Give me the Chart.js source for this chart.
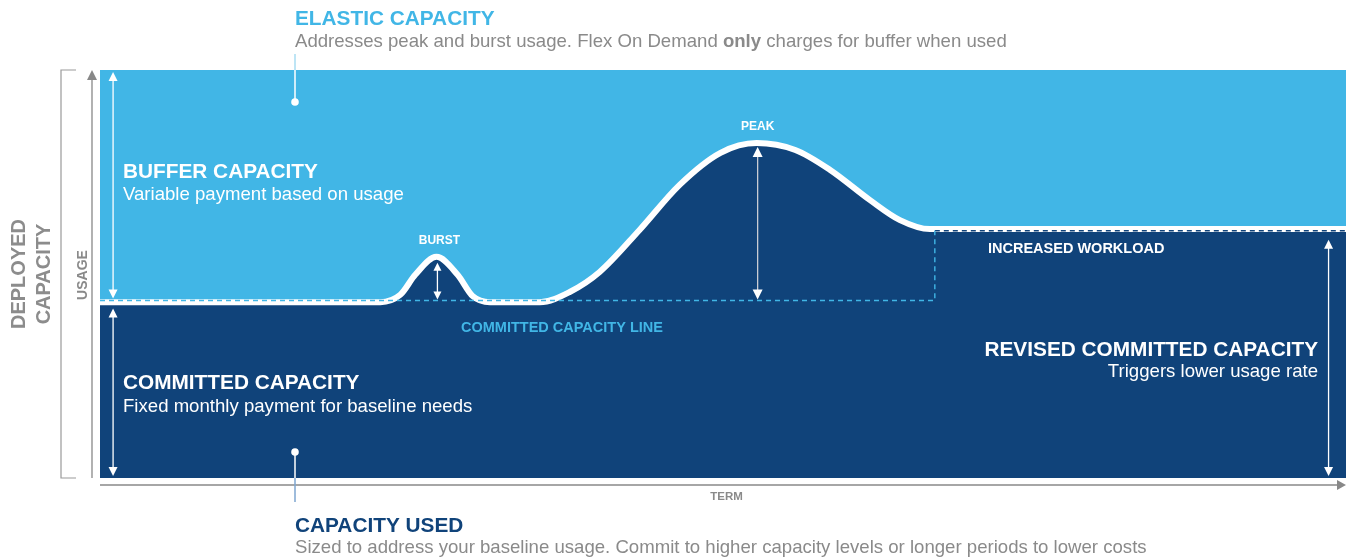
<!DOCTYPE html>
<html><head><meta charset="utf-8">
<script src="https://cdn.jsdelivr.net/npm/chart.js@4/dist/chart.umd.min.js"></script>
<style>html,body{margin:0;padding:0;background:#fff;overflow:hidden}</style>
</head><body>
<canvas id="c" width="1346" height="559"></canvas>
<script>
// ---- data (term on x, usage on y, both 0-100) ----
const termPoints   = [0, 22.5, 24.1, 25.3, 27.0, 28.7, 29.9, 31.3, 35.3, 37.7, 40.1, 43.3, 46.5, 49.8, 52.7, 55.8, 58.6, 61.8, 64.2, 66.6, 100];
const usageValues  = [43.1, 43.1, 44.9, 49.8, 54.2, 49.8, 44.6, 43.1, 43.1, 45.6, 50.5, 60.8, 71.8, 79.7, 82.1, 80.4, 75.5, 68.1, 63.2, 61.0, 61.0];
const committedTerm  = [0, 67.0, 67.0];
const committedLevel = [43.5, 43.5, 60.6];
const revisedTerm    = [67.0, 100];
const revisedLevel   = [60.6, 60.6];

const LIGHT = '#41b6e6', NAVY = '#10437a', GRAY = '#8a8a8a';
const FONT = '"Liberation Sans", Arial, Helvetica, sans-serif';

const pts = (xs, ys) => xs.map((x, i) => ({x, y: ys[i]}));
// local maxima from data
const peakIdx = usageValues.indexOf(Math.max(...usageValues));
let burstIdx = 0;
usageValues.forEach((v, i) => { if (termPoints[i] < 32 && v > usageValues[burstIdx]) burstIdx = i; });

function arrowHead(ctx, x, y, dir, w, h, color) {
  ctx.fillStyle = color;
  ctx.beginPath();
  if (dir === 'up') { ctx.moveTo(x, y); ctx.lineTo(x - w/2, y + h); ctx.lineTo(x + w/2, y + h); }
  else if (dir === 'down') { ctx.moveTo(x, y); ctx.lineTo(x - w/2, y - h); ctx.lineTo(x + w/2, y - h); }
  else if (dir === 'right') { ctx.moveTo(x, y); ctx.lineTo(x - h, y - w/2); ctx.lineTo(x - h, y + w/2); }
  ctx.closePath(); ctx.fill();
}
function dblArrow(ctx, x, y1, y2, lineColor, headColor, w, h) {
  ctx.strokeStyle = lineColor; ctx.lineWidth = 1.3;
  ctx.beginPath(); ctx.moveTo(x, y1 + h - 1); ctx.lineTo(x, y2 - h + 1); ctx.stroke();
  arrowHead(ctx, x, y1, 'up', w, h, headColor);
  arrowHead(ctx, x, y2, 'down', w, h, headColor);
}
function text(ctx, s, x, y, font, color, align) {
  ctx.font = font; ctx.fillStyle = color; ctx.textAlign = align || 'left'; ctx.textBaseline = 'alphabetic';
  ctx.fillText(s, x, y);
}

const bgPlugin = {
  id: 'bg',
  beforeDraw(chart) {
    const {ctx, chartArea: a} = chart;
    ctx.save();
    ctx.fillStyle = '#fff'; ctx.fillRect(0, 0, chart.width, chart.height);
    ctx.fillStyle = LIGHT; ctx.fillRect(a.left, a.top, a.right - a.left, a.bottom - a.top);
    ctx.restore();
  }
};

const decoPlugin = {
  id: 'deco',
  afterDraw(chart) {
    const {ctx, chartArea: a, scales: {x, y}} = chart;
    ctx.save();
    const cY = y.getPixelForValue(committedLevel[0]);
    const rY = y.getPixelForValue(revisedLevel[0]);
    // left bracket
    ctx.strokeStyle = '#9a9a9a'; ctx.lineWidth = 1.2;
    ctx.beginPath(); ctx.moveTo(a.left - 24, a.top); ctx.lineTo(a.left - 39, a.top); ctx.lineTo(a.left - 39, a.bottom); ctx.lineTo(a.left - 24, a.bottom); ctx.stroke();
    // usage axis arrow
    ctx.strokeStyle = '#888'; ctx.lineWidth = 1.3;
    ctx.beginPath(); ctx.moveTo(a.left - 8, a.bottom); ctx.lineTo(a.left - 8, a.top + 8); ctx.stroke();
    arrowHead(ctx, a.left - 8, a.top, 'up', 10, 10, '#888');
    // term axis arrow
    ctx.strokeStyle = '#888';
    ctx.beginPath(); ctx.moveTo(a.left, a.bottom + 7); ctx.lineTo(a.right - 8, a.bottom + 7); ctx.stroke();
    arrowHead(ctx, a.right, a.bottom + 7, 'right', 10, 9, '#888');

    // white double arrows
    const ax = x.getPixelForValue(1.05);
    dblArrow(ctx, ax, y.getPixelForValue(100) + 2, cY - 2, '#fff', '#fff', 9, 9);
    dblArrow(ctx, ax, cY + 8, y.getPixelForValue(0) - 2, '#fff', '#fff', 9, 9);
    const rx = x.getPixelForValue(98.6);
    dblArrow(ctx, rx, rY + 9, y.getPixelForValue(0) - 2, '#fff', '#fff', 9, 9);
    const bx = x.getPixelForValue(termPoints[burstIdx]) + 1;
    dblArrow(ctx, bx, y.getPixelForValue(usageValues[burstIdx]) + 6, cY - 1, '#fff', '#fff', 8, 8);
    const px = x.getPixelForValue(termPoints[peakIdx]) + 1;
    dblArrow(ctx, px, y.getPixelForValue(usageValues[peakIdx]) + 4, cY - 1, '#c9ccd3', '#fff', 10, 10);

    // callout lines
    const cx = 295;
    ctx.lineWidth = 1.5;
    ctx.strokeStyle = '#a8dcf2';
    ctx.beginPath(); ctx.moveTo(cx, 54); ctx.lineTo(cx, a.top); ctx.stroke();
    ctx.strokeStyle = '#ffffff';
    ctx.beginPath(); ctx.moveTo(cx, a.top); ctx.lineTo(cx, 102); ctx.stroke();
    ctx.fillStyle = '#fff'; ctx.beginPath(); ctx.arc(cx, 102, 3.8, 0, Math.PI * 2); ctx.fill();
    ctx.strokeStyle = '#ffffff';
    ctx.beginPath(); ctx.moveTo(cx, 452); ctx.lineTo(cx, a.bottom); ctx.stroke();
    ctx.strokeStyle = '#7ea6d0';
    ctx.beginPath(); ctx.moveTo(cx, a.bottom); ctx.lineTo(cx, 502); ctx.stroke();
    ctx.fillStyle = '#fff'; ctx.beginPath(); ctx.arc(cx, 452, 3.8, 0, Math.PI * 2); ctx.fill();

    // texts
    const T = 'bold 20.8px ' + FONT, S = '18.6px ' + FONT;
    text(ctx, 'ELASTIC CAPACITY', cx, 25, T, LIGHT);
    // subtitle with bold "only"
    ctx.font = S; ctx.fillStyle = GRAY; ctx.textAlign = 'left';
    let s1 = 'Addresses peak and burst usage. Flex On Demand ';
    ctx.fillText(s1, cx, 47);
    let w1 = ctx.measureText(s1).width;
    ctx.font = 'bold 18.6px ' + FONT; ctx.fillText('only', cx + w1, 47);
    let w2 = ctx.measureText('only').width;
    ctx.font = S; ctx.fillText(' charges for buffer when used', cx + w1 + w2, 47);

    text(ctx, 'BUFFER CAPACITY', 123, 177.5, T, '#fff');
    text(ctx, 'Variable payment based on usage', 123, 200, S, '#fff');
    text(ctx, 'COMMITTED CAPACITY', 123, 388.5, T, '#fff');
    text(ctx, 'Fixed monthly payment for baseline needs', 123, 411.5, S, '#fff');
    text(ctx, 'REVISED COMMITTED CAPACITY', 1318, 355.5, T, '#fff', 'right');
    text(ctx, 'Triggers lower usage rate', 1318, 377, S, '#fff', 'right');
    text(ctx, 'CAPACITY USED', cx, 531.5, T, NAVY);
    text(ctx, 'Sized to address your baseline usage. Commit to higher capacity levels or longer periods to lower costs', cx, 553, S, GRAY);

    const SB = 'bold 12px ' + FONT, MB = 'bold 14.5px ' + FONT;
    text(ctx, 'BURST', bx + 2, 244, SB, '#fff', 'center');
    text(ctx, 'PEAK', px, 130, SB, '#fff', 'center');
    text(ctx, 'COMMITTED CAPACITY LINE', 461, 332, MB, LIGHT);
    text(ctx, 'INCREASED WORKLOAD', 988, 253, MB, '#fff');
    text(ctx, 'TERM', 726.5, 499.5, 'bold 11.5px ' + FONT, GRAY, 'center');

    // rotated labels
    ctx.save(); ctx.translate(87, 275); ctx.rotate(-Math.PI / 2);
    text(ctx, 'USAGE', 0, 0, 'bold 14px ' + FONT, GRAY, 'center'); ctx.restore();
    ctx.save(); ctx.translate(25, 274); ctx.rotate(-Math.PI / 2);
    text(ctx, 'DEPLOYED', 0, 0, 'bold 20px ' + FONT, '#8c8c8c', 'center'); ctx.restore();
    ctx.save(); ctx.translate(50, 274); ctx.rotate(-Math.PI / 2);
    text(ctx, 'CAPACITY', 0, 0, 'bold 20px ' + FONT, '#8c8c8c', 'center'); ctx.restore();

    ctx.restore();
  }
};

new Chart(document.getElementById('c'), {
  type: 'line',
  data: {
    datasets: [
      { data: pts(termPoints, usageValues), fill: 'start', backgroundColor: NAVY, borderColor: '#fff', borderWidth: 6,
        pointRadius: 0, cubicInterpolationMode: 'monotone', order: 3, clip: 0 },
      { data: pts(committedTerm, committedLevel), fill: false, borderColor: LIGHT, borderWidth: 1.4, borderDash: [5, 4],
        pointRadius: 0, tension: 0, order: 1 },
      { data: pts(revisedTerm, revisedLevel), fill: false, borderColor: NAVY, borderWidth: 1.4, borderDash: [5, 4],
        pointRadius: 0, tension: 0, order: 1 }
    ]
  },
  options: {
    responsive: false, animation: false, events: [],
    layout: { padding: { left: 100, right: 0, top: 70, bottom: 81 } },
    scales: {
      x: { type: 'linear', min: 0, max: 100, display: false },
      y: { type: 'linear', min: 0, max: 100, display: false }
    },
    plugins: { legend: { display: false }, tooltip: { enabled: false } }
  },
  plugins: [bgPlugin, decoPlugin]
});
</script>
</body></html>
